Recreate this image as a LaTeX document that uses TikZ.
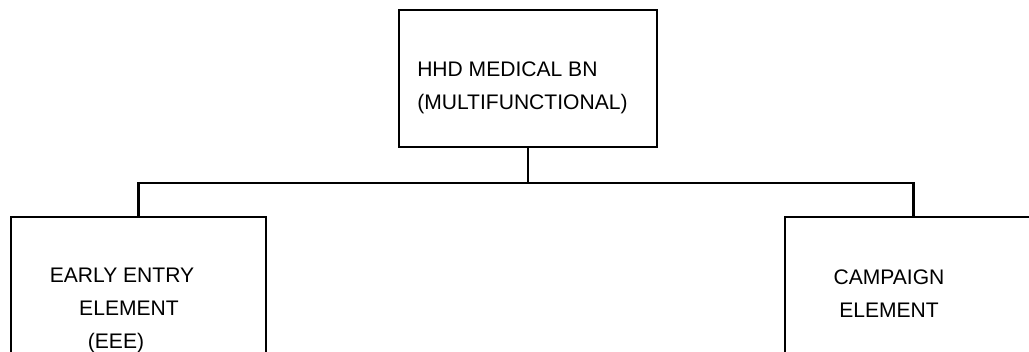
\documentclass[tikz,border=0pt]{standalone}
\usepackage{fontspec}
\setmainfont{Liberation Sans}
\begin{document}
\begin{tikzpicture}[x=0.75pt,y=-0.75pt,
  box/.style={draw=black,line width=2pt,inner sep=0pt},
  conn/.style={draw=black,line width=2pt},
  lbl/.style={font=\fontsize{15.8}{24.5}\selectfont,inner sep=0pt}]
\useasboundingbox (0,0) rectangle (1029,352);
\clip (0,0) rectangle (1029,352);
\node[box,minimum width=193.5pt,minimum height=102.75pt] (top) at (528,78.5) {};
\node[box,minimum width=191.25pt,minimum height=152.25pt] (left) at (138.5,318.5) {};
\node[box,minimum width=192.75pt,minimum height=152.25pt] (right) at (913.5,318.5) {};
\coordinate (bus) at (526,183);
\draw[conn] (top.south) -- (top.south |- bus) -| (left.north);
\draw[conn] (top.south |- bus) -| (right.north);
\node[lbl,anchor=north west,align=left] (toptext) at (417,62) {HHD MEDICAL BN\\(MULTIFUNCTIONAL)};
\node[lbl,anchor=north,align=center] (lefttext) at (122,268) {EARLY ENTRY\\\hspace*{10.5pt}ELEMENT\\(EEE)\hspace*{9pt}};
\node[lbl,anchor=north,align=center] (righttext) at (889,270) {CAMPAIGN\\ELEMENT};
\end{tikzpicture}
\end{document}
